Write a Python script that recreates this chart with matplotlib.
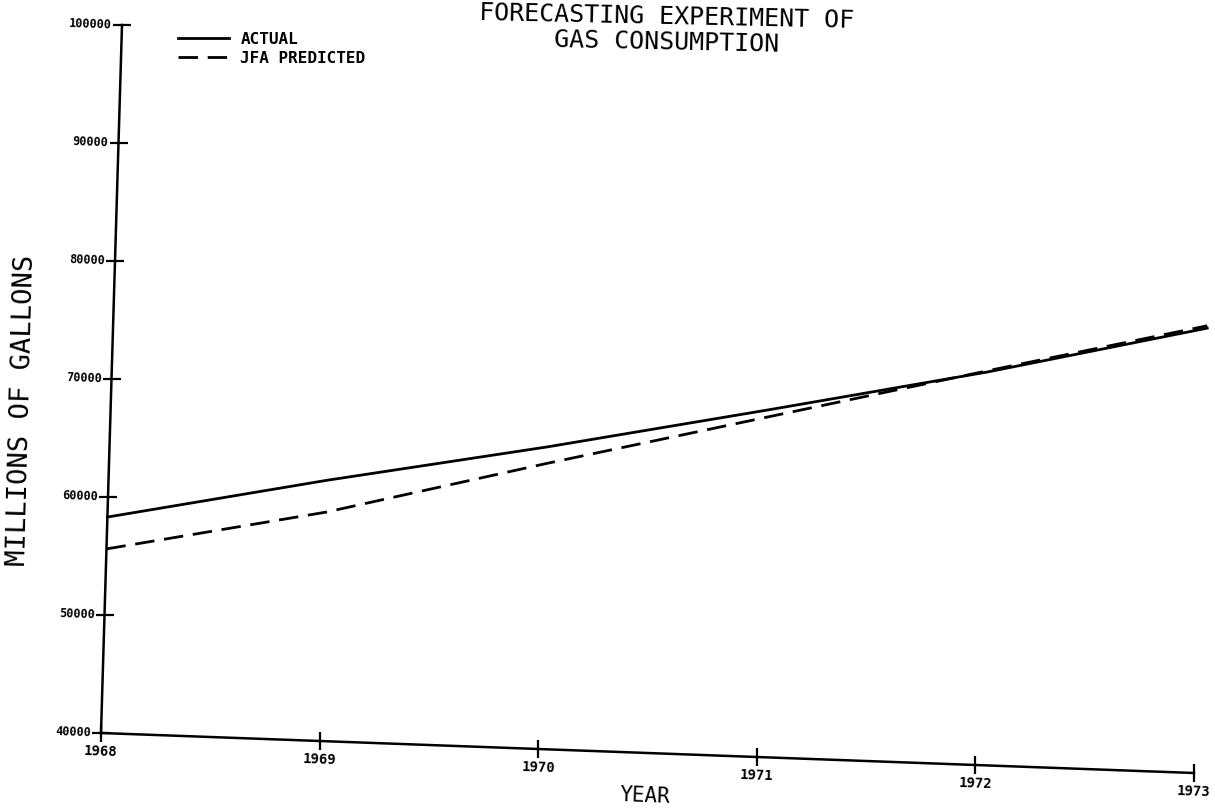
import numpy as np
import matplotlib
matplotlib.use("Agg")
import matplotlib.pyplot as plt
from matplotlib.transforms import Affine2D, offset_copy
from matplotlib.lines import Line2D

# data
years = [1968, 1969, 1970, 1971, 1972, 1973]
actual = [58300, 62100, 65600, 69400, 73300, 77700]
jfa_predicted = [55600, 59400, 64200, 68800, 73400, 77900]
yticks = [40000, 50000, 60000, 70000, 80000, 90000, 100000]
ytick_labels = [str(v) for v in yticks]

plt.rcParams['font.family'] = ['DejaVu Sans Mono', 'DejaVu Sans']

W, H = 1215, 810
fig = plt.figure(figsize=(W / 100, H / 100), dpi=100)

# plot box (unskewed), in pixels of the output image
x0, y0 = 101, 733       # origin
x1, ytop = 1194, 25     # end of x axis / top of y axis
ax = fig.add_axes([x0 / W, (H - y0) / H, (x1 - x0) / W, (y0 - ytop) / H])
ax.set_xlim(years[0], years[-1])
ax.set_ylim(yticks[0], yticks[-1])
ax.set_autoscale_on(False)
ax.axis('off')

# the scan is slightly tilted: skew the whole plot around the origin
ox, oy = x0, H - y0
skew = (Affine2D().translate(-ox, -oy)
        .skew(np.arctan(21 / 708), np.arctan(-40 / 1093))
        .translate(ox, oy))
T = ax.transData + skew
tilt = -2.1

# axes lines
ax.plot([years[0], years[0]], [yticks[0], yticks[-1]], color='black', lw=1.8,
        transform=T, clip_on=False)
ax.plot([years[0], years[-1]], [yticks[0], yticks[0]], color='black', lw=1.8,
        transform=T, clip_on=False)
ax.plot([years[0]] * len(yticks), yticks, ls='none', marker='_', ms=13, mew=1.6,
        color='black', transform=T, clip_on=False)
ax.plot(years, [yticks[0]] * len(years), ls='none', marker='|', ms=13, mew=1.6,
        color='black', transform=T, clip_on=False)

# data lines
ax.plot(years, actual, color='black', lw=2.0, transform=T, clip_on=False)
ax.plot(years, jfa_predicted, color='black', lw=2.0, dashes=(7, 3.5),
        transform=T, clip_on=False)

# tick labels
ylab_tr = offset_copy(T, fig=fig, x=-10, y=0, units='dots')
for v, s in zip(yticks, ytick_labels):
    ax.text(years[0], v, s, transform=ylab_tr, ha='right', va='center',
            fontsize=8.5, fontweight='bold', rotation=tilt,
            rotation_mode='anchor', clip_on=False)
xlab_tr = offset_copy(T, fig=fig, x=0, y=-19, units='dots')
for yr in years:
    ax.text(yr, yticks[0], str(yr), transform=xlab_tr, ha='center', va='center',
            fontsize=10, fontweight='bold', rotation=tilt,
            rotation_mode='anchor', clip_on=False)

# axis titles
fig.text(645 / W, 1 - 796 / H, 'YEAR', ha='center', va='center',
         fontsize=15, rotation=tilt)
fig.text(22 / W, 1 - 410 / H, 'MILLIONS OF GALLONS', ha='center', va='center',
         fontsize=19.5, rotation=88.5)
fig.text(667 / W, 1 - 17 / H, 'FORECASTING EXPERIMENT OF',
         ha='center', va='center', fontsize=18, rotation=-1.2)
fig.text(667 / W, 1 - 42 / H, 'GAS CONSUMPTION',
         ha='center', va='center', fontsize=18, rotation=-1.2)

# legend
handles = [Line2D([], [], color='black', lw=2.0),
           Line2D([], [], color='black', lw=2.0, dashes=(7, 3.5))]
fig.legend(handles, ['ACTUAL', 'JFA PREDICTED'], loc='upper left',
           bbox_to_anchor=(178 / W, 1 - 32 / H), frameon=False,
           prop={'size': 11.5, 'weight': 'bold'}, handlelength=3.2,
           handletextpad=0.7, labelspacing=0.22, borderpad=0, borderaxespad=0)

plt.savefig('out.png', dpi=100)
